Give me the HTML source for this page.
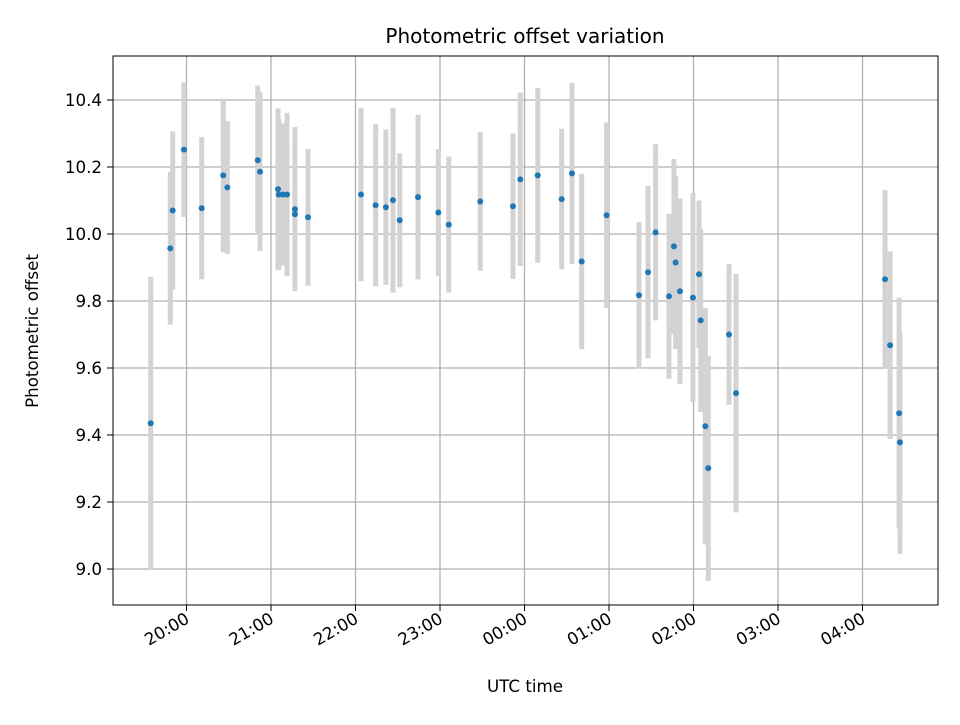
<!DOCTYPE html>
<html><head><meta charset="utf-8"><style>
body{margin:0;background:#fff;}
svg{font-family:"DejaVu Sans","Liberation Sans",sans-serif;}
</style></head><body>
<svg id="chart" width="960" height="720" xmlns="http://www.w3.org/2000/svg">
<rect width="960" height="720" fill="#fff"/>
<g id="grid"></g>
<g id="errs"></g>
<g id="pts"></g>
<rect x="113" y="56" width="825" height="549" fill="none" stroke="#000" stroke-width="1"/>
<g id="axes"></g>
<text x="525" y="43" font-size="20" text-anchor="middle">Photometric offset variation</text>
<text x="525" y="692" font-size="16.7" text-anchor="middle">UTC time</text>
<text transform="translate(38,331) rotate(-90)" font-size="16.7" text-anchor="middle">Photometric offset</text>
</svg>
<script>
// minutes since 20:00 UTC
const times=[-25.4,-11.5,-9.8,-1.8,10.8,26.1,29.0,50.6,52.2,65.0,65.5,68.5,71.4,77.0,77.0,86.3,123.9,134.3,141.6,146.6,151.4,164.4,178.8,186.2,208.6,231.8,237.0,249.4,266.4,273.7,280.6,298.3,321.3,327.7,333.1,342.6,346.1,347.3,350.4,359.6,363.9,365.1,368.4,370.5,385.2,390.2,496.0,499.6,506.0,506.6];
const values=[9.435,9.957,10.070,10.252,10.077,10.175,10.139,10.220,10.186,10.134,10.118,10.118,10.118,10.074,10.059,10.050,10.118,10.086,10.080,10.101,10.041,10.110,10.064,10.028,10.097,10.083,10.163,10.175,10.104,10.181,9.918,10.056,9.817,9.886,10.005,9.814,9.963,9.915,9.829,9.810,9.880,9.742,9.426,9.301,9.700,9.525,9.865,9.668,9.465,9.378];
const errors=[0.437,0.228,0.236,0.201,0.212,0.229,0.198,0.223,0.237,0.241,0.226,0.212,0.244,0.245,0.2,0.204,0.259,0.242,0.232,0.276,0.2,0.246,0.189,0.203,0.207,0.217,0.259,0.261,0.21,0.27,0.262,0.277,0.219,0.257,0.263,0.246,0.261,0.258,0.277,0.312,0.22,0.273,0.353,0.336,0.21,0.356,0.266,0.28,0.345,0.333];
const yTicks=[9.0,9.2,9.4,9.6,9.8,10.0,10.2,10.4];
const xTickMinutes=[0,60,120,180,240,300,360,420,480];
const xTickLabels=["20:00","21:00","22:00","23:00","00:00","01:00","02:00","03:00","04:00"];
const NS="http://www.w3.org/2000/svg";
function X(m){return 186.5+m/60*84.5;}
function Y(v){return 100+(10.4-v)*335;}
function mk(tag,attrs,parent){const e=document.createElementNS(NS,tag);for(const k in attrs)e.setAttribute(k,attrs[k]);document.getElementById(parent).appendChild(e);return e;}
yTicks.forEach((t)=>{
  const y=Y(t);
  const g=mk('line',{x1:113,x2:938,y1:y,y2:y,stroke:'#b0b0b0','stroke-width':1.3},'grid');
  
  
  const tk=mk('line',{x1:107,x2:113,y1:y,y2:y,stroke:'#000'},'axes');
  
  
  const tx=mk('text',{x:102,y:y+6,'font-size':16.7,'text-anchor':'end'},'axes');
  tx.textContent=t.toFixed(1);
  
  
});
xTickMinutes.forEach((m,i)=>{
  const x=X(m);
  const g=mk('line',{x1:x,x2:x,y1:56,y2:605,stroke:'#b0b0b0','stroke-width':1.3},'grid');
  
  
  const tk=mk('line',{x1:x,x2:x,y1:605,y2:611,stroke:'#000'},'axes');
  
  
  const tx=mk('text',{transform:'translate('+(x+4)+',622) rotate(-30)','font-size':16.7,'text-anchor':'end'},'axes');
  tx.textContent=xTickLabels[i];
  
  
});
times.forEach((m,i)=>{
  const x=X(m);
  const e=mk('line',{x1:x,x2:x,y1:Y(values[i]+errors[i]),y2:Y(values[i]-errors[i]),stroke:'#d3d3d3','stroke-width':5},'errs');
  
  
});
times.forEach((m,i)=>{
  const c=mk('circle',{cx:X(m),cy:Y(values[i]),r:3,fill:'#1f77b4'},'pts');
  
  
});
</script>
</body></html>
